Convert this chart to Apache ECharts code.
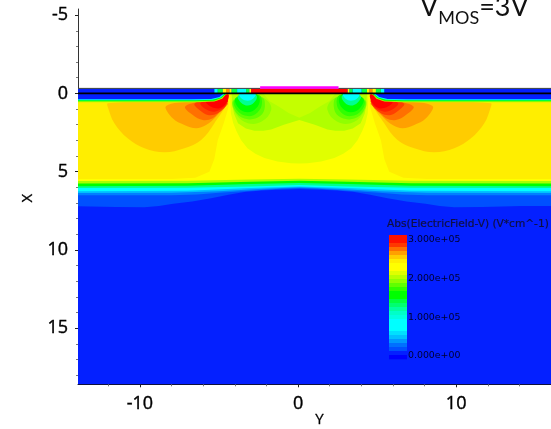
<!DOCTYPE html>
<html><head><meta charset="utf-8">
<style>html,body{margin:0;padding:0;background:#fff}#c{width:551px;height:429px}</style>
<script src="https://cdn.jsdelivr.net/npm/echarts@6/dist/echarts.min.js"></script>
</head><body><div id="c"></div>
<script>
// Axis scales (device coordinates in micrometres)
var yMin=-13.92, yMax=16, xMin=-5.39, xMax=18.58, yCentre=0.08, far=-15.92;
var yMajorTicks=[-10,0,10], yMinorTicks=[-12,-8,-6,-4,-2,2,4,6,8,12,14];
var xMajorTicks=[-5,0,5,10,15], xMinorTicks=[-4,-3,-2,-1,1,2,3,4,6,7,8,9,11,12,13,14,16,17,18];
var legendTicks=['3.000e+05','2.000e+05','1.000e+05','0.000e+00'];
// Contour boundaries: [Y, X] pairs for the left half of the structure
var field=[[far,-0.32],[far,18.58],[yCentre,18.58]];
var band1=[[far,0],[far,7.2],[-13.94,7.2],[-11.5,7.26],[-9.72,7.27],[-8.8,7.2],[-7.9,7.05],[-6.7,6.9],[-5.5,6.7],[-4.4,6.48],[-3.4,6.3],[-2.3,6.2],[-1.3,6.15],[yCentre,6.1]];
var band2=[[far,0],[far,6.5],[-8,6.5],[-6.4,6.45],[-5,6.35],[-3,6.22],[-1.4,6.1],[yCentre,6.05]];
var band3=[[far,0],[far,6.36],[-8,6.35],[-5,6.25],[-2.5,6.1],[yCentre,6.0]];
var band4=[[far,0],[far,6.25],[-7,6.22],[-3,6.05],[yCentre,5.95]];
var band5=[[far,0],[far,6.05],[-7,6.03],[-3,5.95],[yCentre,5.85]];
var band6=[[far,0],[far,5.93],[-7,5.9],[-3,5.78],[yCentre,5.72]];
var band7=[[far,0],[far,5.76],[-7,5.74],[-3,5.64],[yCentre,5.58]];
var band8=[[far,0],[far,5.6],[-7,5.58],[-3,5.5],[yCentre,5.45]];
var sideZone=[[far,0],[far,5.46],[-8,5.46],[-6.5,5.38],[-5.61,5.0],[-5.3,4.2],[-5.08,3.0],[-4.7,1.9],[-4.4,0.88],[-4.35,0]];
var lens1=[[-4.3,0],[-4.27,.7],[-4.25,1.27],[-4.1,1.9],[-3.9,2.4],[-3.6,3.0],[-3.2,3.5],[-2.7,3.85],[-2.13,4.12],[-1.3,4.35],[-.44,4.46],[yCentre,4.47]];
var lens2=[[-4.2,0],[-4.15,.8],[-4.05,1.3],[-3.8,1.9],[-3.3,2.25],[-2.76,2.38],[-2.2,2.38],[-1.7,2.3],[-.9,2.0],[yCentre,1.7]];
var lens3=[[-2.2,0],[-1.8,0.5],[-1.2,0.85],[-0.6,1.25],[yCentre,1.55]];
var green1=[[-4.1,.42],[-3.9,1.35],[-3.18,1.9],[-2.3,1.8],[-1.7,1.06],[-1.95,.45],[-2.76,.1]];
var green2=[[-4.05,.42],[-3.9,1.25],[-3.18,1.65],[-2.4,1.45],[-2.1,.85],[-2.3,.25]];
var green3=[[-4,.42],[-3.85,1.1],[-3.18,1.45],[-2.55,1.2],[-2.28,.6],[-2.5,.1]];
var green4=[[-3.95,.3],[-3.75,.95],[-3.18,1.2],[-2.65,.95],[-2.42,.4],[-2.7,.04]];
var green5=[[-3.8,.15],[-3.6,.6],[-3.18,.78],[-2.8,.6],[-2.6,.2],[-2.9,.04]];
var green6=[[-3.7,.04],[-3.55,.35],[-3.18,.47],[-2.85,.35],[-2.7,.04]];
var orange1=[[-12.04,.63],[-12.04,.85],[-11.62,1.91],[-10.78,2.87],[-9.72,3.5],[-8.45,3.76],[-7.19,3.5],[-6.13,2.97],[-5.29,1.91],[-4.55,.42],[-6.77,.46],[-9.72,.53]];
var orange2=[[-8.35,.8],[-7.93,1.59],[-7.19,2.02],[-6.45,2.23],[-5.82,2.02],[-5.18,1.48],[-4.55,.63],[-6.56,.53]];
var orange3=[[-7.15,.85],[-6.66,1.38],[-6.03,1.7],[-5.4,1.59],[-4.87,1.06],[-4.45,.63],[-6.13,.53]];
var orange4=[[-6.56,.68],[-6.24,1.06],[-5.71,1.38],[-5.08,1.27],[-4.55,.68],[-5.93,.46]];
var orange5=[[-6.18,.63],[-5.82,1.02],[-5.29,1.17],[-4.66,.85],[-4.45,.42],[-5.5,.42]];
var orange6=[[-5.82,.53],[-5.5,.85],[-4.97,.95],[-4.55,.63],[-4.38,.1],[-4.66,.1],[-5.08,.46]];
var edge1=[[far,-.3],[far,.56],[-6.5,.56],[-5.3,.52],[-4.8,.34],[-4.55,.05],[-4.5,-.3]];
var edge2=[[far,-.3],[far,.5],[-6.5,.5],[-5.3,.47],[-4.85,.3],[-4.6,.05],[-4.55,-.3]];
var edge3=[[far,-.3],[far,.44],[-6.5,.44],[-5.4,.41],[-4.9,.27],[-4.66,.05],[-4.62,-.3]];
var oxide=[[far,-.32],[far,.38],[-6.77,.38],[-5.5,.36],[-4.97,.23],[-4.76,.05],[-4.72,-.32]];
// Strips along the surface above the line X=0: [Y from, Y to, colour]
var surface=[[-5.29,-5.08,'#00ffff'],[-5.08,-4.76,'#00ff40'],[-4.76,-4.55,'#ffff00'],[-4.55,-4.34,'#ff9000'],[-4.34,-4.2,'#ffff00'],[-4.2,-3.85,'#00ff40'],[-3.85,-3.29,'#00ffff'],[-3.29,-3.08,'#00ff40'],[-3.08,-2.97,'#ffff00']];
var gateRed=[[-2.97,-0.32],[-2.97,0],[yCentre,0]];
var gateMagenta=[[-2.4,-0.46],[-2.4,-0.3],[yCentre,-0.3]];
var colorBar=['#ff1000','#ff1000','#ff3800','#ff7000','#ffa000','#ffcc00','#ffee00','#ffff00','#ffff00','#e0ff00','#b8ff00','#90ff00','#60ff00','#30ff00','#00ff00','#00ff00','#00ff40','#00ff70','#00ffa0','#00ffc8','#00ffe0','#00ffff','#00ffff','#00ffff','#00e0ff','#00c0ff','#0098ff','#0070ff','#0050ff','#0420ff','#0000ff'];
var surfaceEdge=[[yMin,-0.32],[-2.4,-0.32],['-','-'],[2.56,-0.32],[yMax,-0.32]];
var zeroLine=[[yMin,0],[yMax,0]];

function mirror(p){return p.map(function(q){return [2*yCentre-q[0],q[1]];});}
function whole(p){return p.concat(mirror(p).reverse());}
var layers=[];
function addWhole(p,c){layers.push({p:whole(p),c:c,s:0});}
function addPair(p,c,s){layers.push({p:p,c:c,s:s});layers.push({p:mirror(p),c:c,s:s});}
addWhole(field,'#0420ff');
addWhole(band1,'#0050ff');addWhole(band2,'#0080ff');addWhole(band3,'#00c0ff');
addWhole(band4,'#00ffff');addWhole(band5,'#00ff90');addWhole(band6,'#00ff00');
addWhole(band7,'#a8ff00');addWhole(band8,'#ffff00');
addPair(sideZone,'#ffee00',0);
addWhole(lens1,'#e0ff00');addWhole(lens2,'#b0ff00');addWhole(lens3,'#c4ff00');
addPair(green1,'#90ff00',.4);addPair(green2,'#60ff00',.4);addPair(green3,'#30ff00',.4);
addPair(green4,'#00ff00',.4);addPair(green5,'#00ff90',.4);addPair(green6,'#00ffff',.4);
addPair(orange1,'#ffcc00',.35);addPair(orange2,'#ffa000',.35);addPair(orange3,'#ff7000',.35);
addPair(orange4,'#ff4000',.35);addPair(orange5,'#ff2000',.35);addPair(orange6,'#ff0000',.35);
addPair(edge1,'#a8ff00',0);addPair(edge2,'#00ff00',0);addPair(edge3,'#00ffff',0);addPair(oxide,'#0420ff',0);
surface.forEach(function(r){addPair([[r[0],-.32],[r[0],.02],[r[1],.02],[r[1],-.32]],r[2],0);});
addWhole(gateRed,'#ff0000');

var chart=echarts.init(document.getElementById('c'),null,{renderer:'canvas'});
var tickFont='"Open Sans"';
function xAxisOf(major){
  return {type:'value',min:yMin,max:yMax,position:'bottom',splitLine:{show:false},
    name:major?'Y':'',nameLocation:'middle',nameGap:28,nameMoveOverlap:false,
    nameTextStyle:{fontFamily:tickFont,fontSize:15,color:'#000',fontWeight:500,padding:[0,0,0,10],textBorderColor:'#000',textBorderWidth:.3},
    axisLine:{show:major,onZero:false,lineStyle:{color:'#101030',width:1}},
    axisTick:{show:true,length:major?3:2,inside:false,customValues:major?yMajorTicks:yMinorTicks,lineStyle:{color:major?'#222':'#777'}},
    axisLabel:{show:major,customValues:yMajorTicks,margin:11,hideOverlap:false,formatter:function(v){return String(v);},fontFamily:tickFont,fontSize:18,color:'#000',textBorderColor:'#000',textBorderWidth:.4}};
}
function yAxisOf(major){
  return {type:'value',inverse:true,min:xMin,max:xMax,position:'left',splitLine:{show:false},
    name:major?'X':'',nameLocation:'middle',nameGap:43,nameRotate:90,nameMoveOverlap:false,
    nameTextStyle:{fontFamily:tickFont,fontSize:15,color:'#000',padding:[0,3,0,0],textBorderColor:'#000',textBorderWidth:.3},
    axisLine:{show:major,onZero:false,lineStyle:{color:'#333',width:1}},
    axisTick:{show:true,length:major?3:2,inside:false,customValues:major?xMajorTicks:xMinorTicks,lineStyle:{color:major?'#222':'#777'}},
    axisLabel:{show:major,customValues:xMajorTicks,margin:10,hideOverlap:false,padding:[2,0,0,0],formatter:function(v){return String(v);},fontFamily:tickFont,fontSize:18,color:'#000',textBorderColor:'#000',textBorderWidth:.4}};
}
var g=[];
var barX=389,barTop=235,barStep=4;
colorBar.forEach(function(c,i){g.push({type:'rect',left:barX,top:barTop+i*barStep,shape:{width:18,height:barStep+.3},style:{fill:c},z:20});});
g.push({type:'text',left:387,top:219,z:21,style:{text:'Abs(ElectricField-V) (V*cm^-1)',fontFamily:'"DejaVu Sans"',fontSize:10.6,fill:'#101040',stroke:'#101040',lineWidth:.2}});
legendTicks.forEach(function(t,i){g.push({type:'text',left:408,top:235+i*38.8,z:21,style:{text:t,fontFamily:'"DejaVu Sans"',fontSize:9.4,fill:'#000030'}});});
g.push({type:'text',left:420,top:-6,z:21,style:{rich:{a:{fontFamily:'Lato',fontSize:27,fill:'#111',verticalAlign:'bottom'},b:{fontFamily:'Lato',fontSize:18,fill:'#111',verticalAlign:'bottom',padding:[0,0,-6,0]}},text:'{a|V}{b|MOS}{a|=3V}'}});

var magentaLayer=whole(gateMagenta);
chart.setOption({animation:false,backgroundColor:'#fff',
  grid:{left:78,right:0,top:9,bottom:44.7,containLabel:false,outerBoundsMode:'none'},
  xAxis:[xAxisOf(true),xAxisOf(false)],yAxis:[yAxisOf(true),yAxisOf(false)],
  graphic:g,
  series:[
   {type:'custom',clip:true,coordinateSystem:'cartesian2d',silent:true,
    data:layers.map(function(l,i){return [i];}),encode:{x:0,y:0},
    renderItem:function(params,api){var l=layers[params.dataIndex];
      return {type:'polygon',shape:{points:l.p.map(function(q){return api.coord(q);}),smooth:l.s},style:{fill:l.c}};}},
   {type:'line',silent:true,symbol:'none',connectNulls:false,data:surfaceEdge,lineStyle:{color:'#444',width:1},z:5},
   {type:'line',silent:true,symbol:'none',data:zeroLine,lineStyle:{color:'#000',width:1.6},z:5},
   {type:'custom',clip:true,coordinateSystem:'cartesian2d',silent:true,z:6,data:[[0]],encode:{x:0,y:0},
    renderItem:function(params,api){return {type:'polygon',shape:{points:magentaLayer.map(function(q){return api.coord(q);})},style:{fill:'#ff00ff'}};}}
  ]});
</script></body></html>
